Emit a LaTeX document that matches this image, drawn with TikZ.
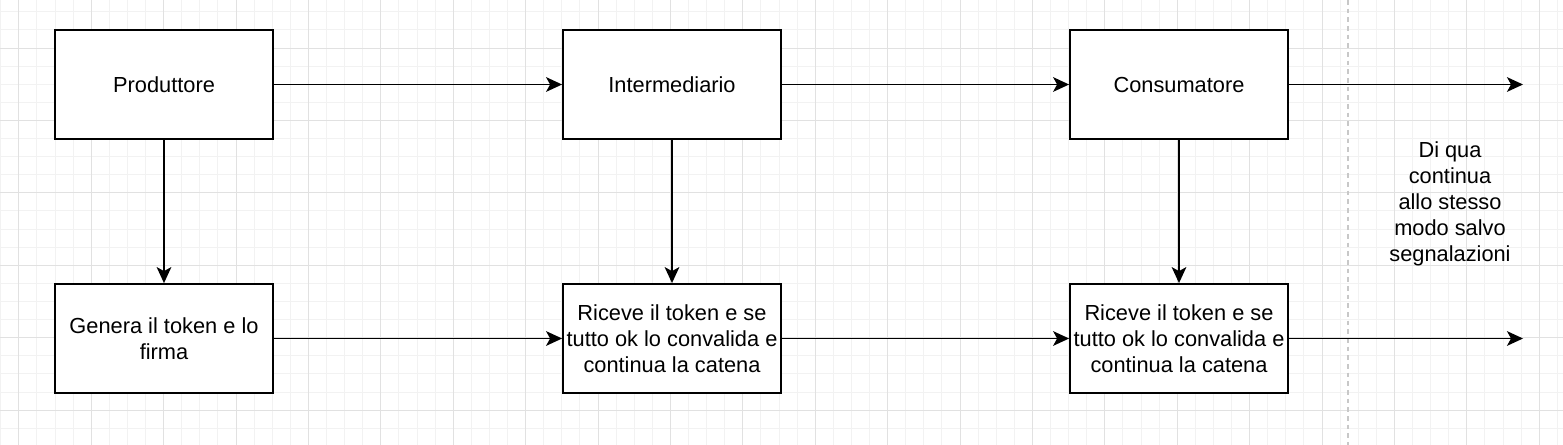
\documentclass[tikz,border=0pt]{standalone}
\usepackage{fontspec}
\setmainfont{Liberation Sans}
\usetikzlibrary{arrows.meta}
\definecolor{gridminor}{HTML}{F2F2F2}
\definecolor{gridmajor}{HTML}{E1E1E1}
\definecolor{dashgray}{HTML}{C8C8C8}
\tikzset{
  box/.style={draw=black, line width=1.35pt, fill=white, minimum width=163.5pt, minimum height=81.75pt, inner sep=0pt, align=center, font=\fontsize{16.35pt}{19.5pt}\selectfont},
  conn/.style={line width=1.35pt, -{Stealth[length=12pt,width=11pt,inset=3pt]}},
  note/.style={align=center, inner sep=0pt, font=\fontsize{16.35pt}{19.4pt}\selectfont}
}
\begin{document}
\begin{tikzpicture}[x=0.75pt,y=-0.75pt]
\useasboundingbox (0,0) rectangle (1563,445);
\fill[white] (0,0) rectangle (1563,445);
% grid
\foreach \k in {-3,...,83}{
  \pgfmathsetmacro\xx{55+18.1*\k}
  \draw[gridminor, line width=0.75pt] (\xx,0) -- (\xx,445);
}
\foreach \k in {-2,...,23}{
  \pgfmathsetmacro\yy{30+18.1*\k}
  \draw[gridminor, line width=0.75pt] (0,\yy) -- (1563,\yy);
}
\foreach \k in {-1,...,21}{
  \pgfmathsetmacro\xx{91.2+72.4*\k}
  \draw[gridmajor, line width=0.75pt] (\xx,0) -- (\xx,445);
}
\foreach \k in {-1,...,6}{
  \pgfmathsetmacro\yy{48.1+72.4*\k}
  \draw[gridmajor, line width=0.75pt] (0,\yy) -- (1563,\yy);
}
% dashed separator
\coordinate (dtop) at (1348,0);
\coordinate (dbot) at (1348,445);
\draw[dashgray, line width=1.5pt, dash pattern=on 3.5pt off 3pt] (dtop) -- (dbot);
% boxes
\node[box] (prod) at (164,84.5) {Produttore};
\node[box] (inter) at (672,84.5) {Intermediario};
\node[box] (cons) at (1179,84.5) {Consumatore};
\node[box] (gen) at (164,338.5) {Genera il token e lo\\firma};
\node[box] (ric1) at (672,338.5) {Riceve il token e se\\tutto ok lo convalida e\\continua la catena};
\node[box] (ric2) at (1179,338.5) {Riceve il token e se\\tutto ok lo convalida e\\continua la catena};
\coordinate (endtop) at (1523,84.5);
\coordinate (endbot) at (1523,338.5);
% connectors
\draw[conn] (prod) -- (inter);
\draw[conn] (inter) -- (cons);
\draw[conn] (cons) -- (endtop);
\draw[conn] (gen) -- (ric1);
\draw[conn] (ric1) -- (ric2);
\draw[conn] (ric2) -- (endbot);
\draw[conn] (prod) -- (gen);
\draw[conn] (inter) -- (ric1);
\draw[conn] (cons) -- (ric2);
% note
\node[note] (txt) at (1450,204) {Di qua\\continua\\allo stesso\\modo salvo\\segnalazioni};
\end{tikzpicture}
\end{document}
